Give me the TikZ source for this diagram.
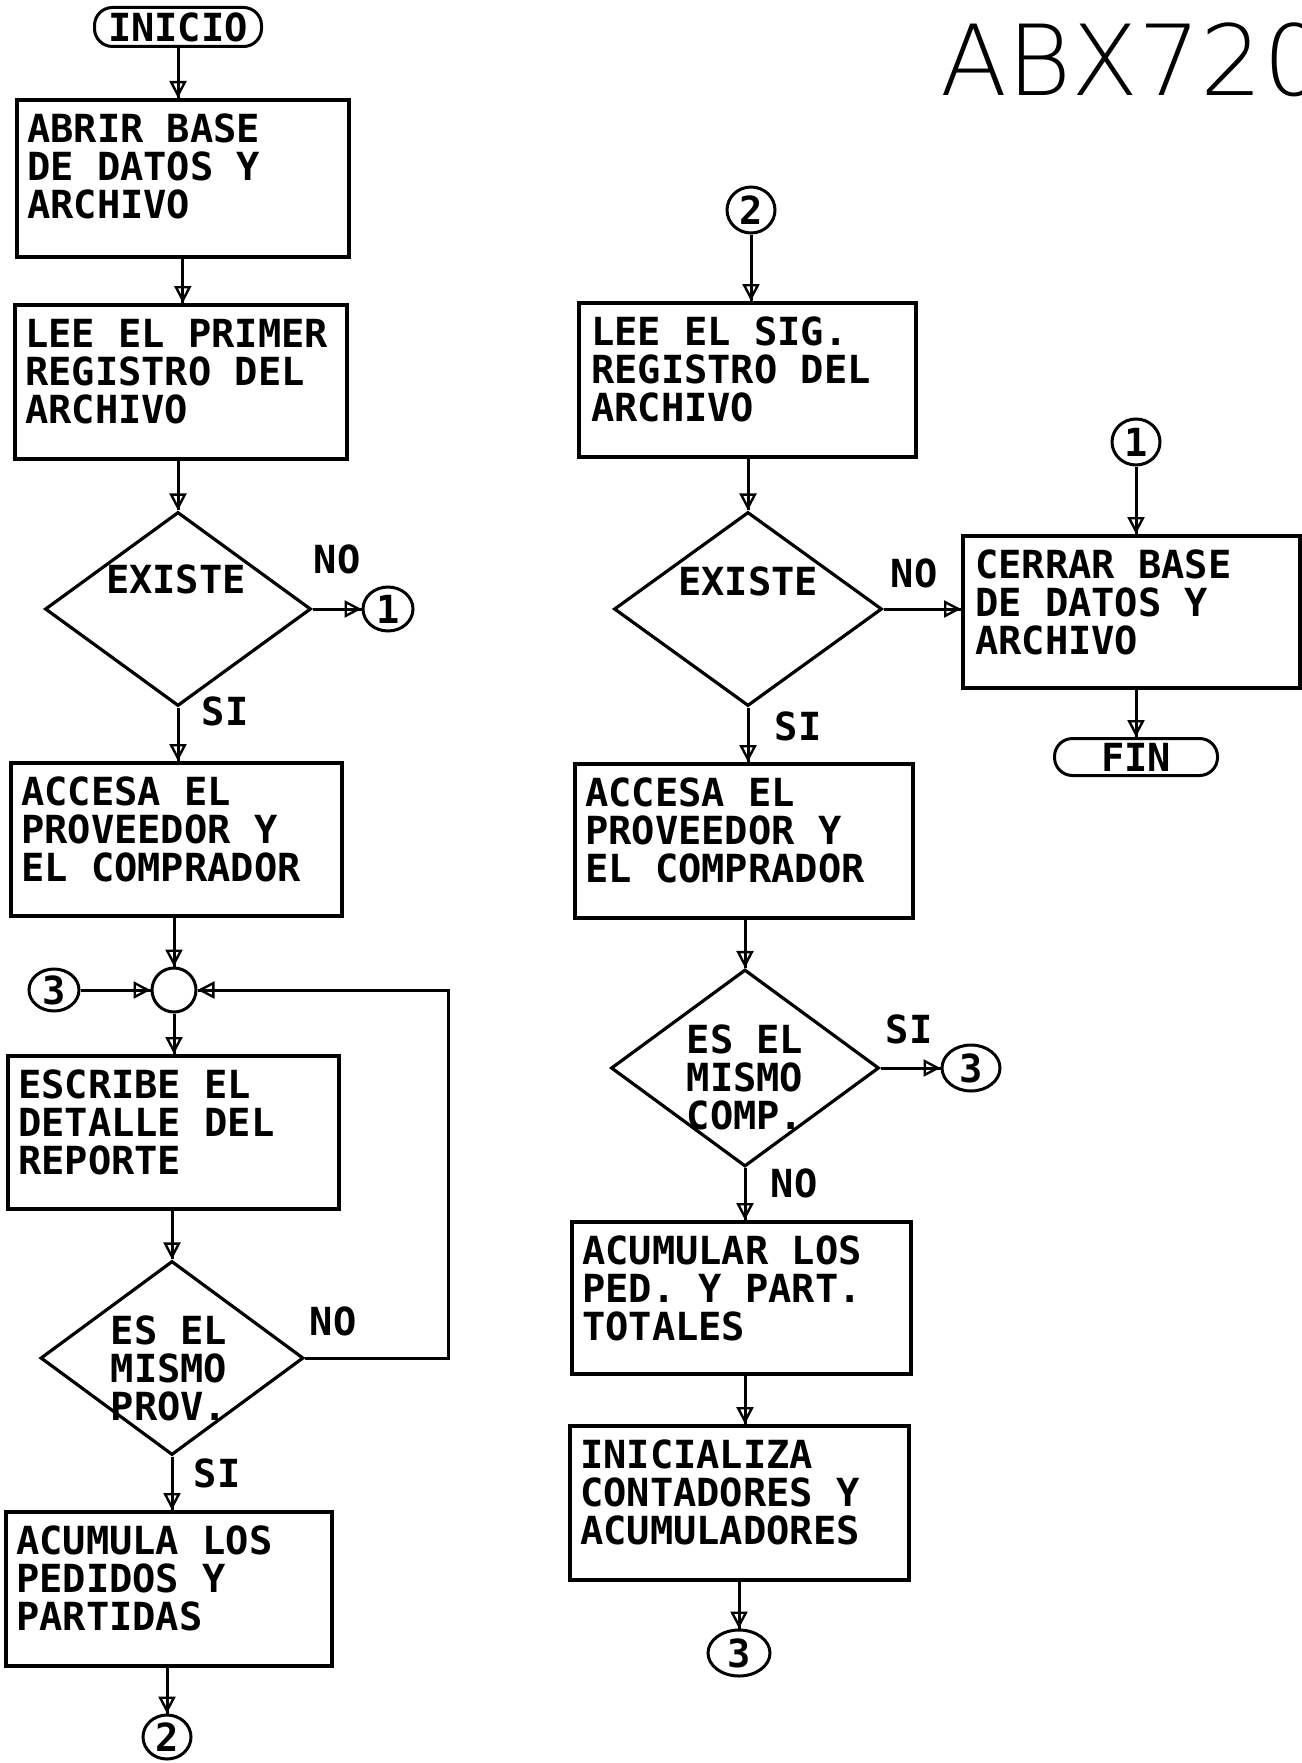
\documentclass[tikz,border=0pt]{standalone}
\usepackage{fontspec}
\usetikzlibrary{shapes.geometric,arrows.meta}
\newfontfamily\plotfont{DejaVu Sans Mono}
\newfontfamily\titlefont{DejaVu Sans ExtraLight}
\newcommand{\flowline}[1]{\draw[ln] #1; \draw[arr] #1;}
\tikzset{
  ln/.style={line width=3pt},
  arr/.style={line width=3pt, -{Triangle[open,length=17pt,width=17pt,line width=2.4pt]}},
  pfont/.style={font=\plotfont\bfseries\fontsize{38.7}{38}\selectfont},
  boxnode/.style={draw, rectangle, line width=3.6pt, inner sep=0pt, anchor=north west},
  txt/.style={pfont, inner sep=0pt, align=left, anchor=north west},
  lbl/.style={pfont, inner sep=0pt, align=center},
  dia/.style={draw, diamond, line width=3.2pt, inner sep=0pt},
  conn/.style={draw, ellipse, line width=3pt, inner sep=0pt, pfont},
  term/.style={draw, rectangle, rounded corners=18pt, line width=3pt, inner sep=0pt, pfont},
}
\begin{document}
\begin{tikzpicture}[x=1pt,y=-1pt]
\useasboundingbox (0,0) rectangle (1301,1763);
\fill[white] (0,0) rectangle (1301,1763);

% title
\begin{scope}
\clip (0,0) rectangle (1301,1763);
\node[anchor=base west, inner sep=0pt, font=\titlefont\fontsize{98}{98}\selectfont] (title) at (940,96) {ABX720};
\end{scope}

% ---------- left column ----------
\node[term, minimum width=167pt, minimum height=39pt] (ini) at (178,27) {INICIO};
\node[boxnode, minimum width=332pt, minimum height=157pt] (b1) at (15,98) {};
\node[txt] (t1) at ([shift={(12,16)}]b1.north west) {ABRIR BASE\\DE DATOS Y\\ARCHIVO};
\node[boxnode, minimum width=332pt, minimum height=154pt] (b2) at (13,303) {};
\node[txt] (t2) at ([shift={(12,16)}]b2.north west) {LEE EL PRIMER\\REGISTRO DEL\\ARCHIVO};
\node[dia, minimum width=266pt, minimum height=194pt] (d1) at (178,609) {};
\node[lbl] (dt1) at (176,579) {EXISTE};
\node[lbl] (no1) at (337,559) {NO};
\node[conn, minimum width=50pt, minimum height=44pt] (c1a) at (388,609) {1};
\node[lbl] (si1) at (225,711) {SI};
\node[boxnode, minimum width=331pt, minimum height=153pt] (b3) at (9,761) {};
\node[txt] (t3) at ([shift={(12,16)}]b3.north west) {ACCESA EL\\PROVEEDOR Y\\EL COMPRADOR};
\node[draw, circle, line width=3pt, minimum size=44pt, inner sep=0pt] (j) at (174,990) {};
\node[conn, minimum width=50pt, minimum height=42pt] (c3a) at (54,990) {3};
\coordinate (lp) at (448,990);
\node[boxnode, minimum width=331pt, minimum height=153pt] (b4) at (6,1054) {};
\node[txt] (t4) at ([shift={(12,16)}]b4.north west) {ESCRIBE EL\\DETALLE DEL\\REPORTE};
\node[dia, minimum width=263pt, minimum height=194pt] (d2) at (172,1358) {};
\node[lbl] (dt2) at (169,1368) {ES EL\\MISMO\\PROV.};
\node[lbl] (no2) at (333,1321) {NO};
\node[lbl] (si2) at (217,1473) {SI};
\node[boxnode, minimum width=326pt, minimum height=154pt] (b5) at (4,1510) {};
\node[txt] (t5) at ([shift={(12,16)}]b5.north west) {ACUMULA LOS\\PEDIDOS Y\\PARTIDAS};
\node[conn, minimum width=48pt, minimum height=44pt] (c2b) at (167,1737) {2};

% ---------- middle column ----------
\node[conn, minimum width=48pt, minimum height=46pt] (c2t) at (751,210) {2};
\node[boxnode, minimum width=337pt, minimum height=154pt] (b6) at (577,301) {};
\node[txt] (t6) at ([shift={(14,16)}]b6.north west) {LEE EL SIG.\\REGISTRO DEL\\ARCHIVO};
\node[dia, minimum width=268pt, minimum height=194pt] (d3) at (748,609) {};
\node[lbl] (dt3) at (748,581) {EXISTE};
\node[lbl] (no3) at (914,573) {NO};
\node[lbl] (si3) at (798,726) {SI};
\node[boxnode, minimum width=338pt, minimum height=154pt] (b7) at (573,762) {};
\node[txt] (t7) at ([shift={(12,16)}]b7.north west) {ACCESA EL\\PROVEEDOR Y\\EL COMPRADOR};
\node[dia, minimum width=268pt, minimum height=197pt] (d4) at (745,1068) {};
\node[lbl] (dt4) at (745,1077) {ES EL\\MISMO\\COMP.};
\node[lbl] (si4) at (909,1029) {SI};
\node[conn, minimum width=58pt, minimum height=46pt] (c3r) at (971,1068) {3};
\node[lbl] (no4) at (794,1183) {NO};
\node[boxnode, minimum width=339pt, minimum height=152pt] (b8) at (570,1220) {};
\node[txt] (t8) at ([shift={(12,16)}]b8.north west) {ACUMULAR LOS\\PED. Y PART.\\TOTALES};
\node[boxnode, minimum width=339pt, minimum height=154pt] (b10) at (568,1424) {};
\node[txt] (t10) at ([shift={(12,16)}]b10.north west) {INICIALIZA\\CONTADORES Y\\ACUMULADORES};
\node[conn, minimum width=62pt, minimum height=46pt] (c3b) at (739,1653) {3};

% ---------- right column ----------
\node[conn, minimum width=48pt, minimum height=46pt] (c1t) at (1136,442) {1};
\node[boxnode, minimum width=337pt, minimum height=152pt] (b9) at (961,534) {};
\node[txt] (t9) at ([shift={(14,16)}]b9.north west) {CERRAR BASE\\DE DATOS Y\\ARCHIVO};
\node[term, minimum width=163pt, minimum height=37pt] (fin) at (1136,757) {FIN};

% ---------- connectors ----------
\flowline{(ini.south) -- (ini.south |- b1.north)}
\flowline{(b1.south) -- (b1.south |- b2.north)}
\flowline{(d1.north |- b2.south) -- (d1.north)}
\flowline{(d1.east) -- (c1a.west)}
\flowline{(d1.south) -- (d1.south |- b3.north)}
\flowline{(j.north |- b3.south) -- (j.north)}
\flowline{(c3a.east) -- (j.west)}
\flowline{(d2.east) -| (lp) -- (j.east)}
\flowline{(j.south) -- (j.south |- b4.north)}
\flowline{(d2.north |- b4.south) -- (d2.north)}
\flowline{(d2.south) -- (d2.south |- b5.north)}
\flowline{(c2b.north |- b5.south) -- (c2b.north)}

\flowline{(c2t.south) -- (c2t.south |- b6.north)}
\flowline{(d3.north |- b6.south) -- (d3.north)}
\flowline{(d3.east) -- (d3.east -| b9.west)}
\flowline{(d3.south) -- (d3.south |- b7.north)}
\flowline{(d4.north |- b7.south) -- (d4.north)}
\flowline{(d4.east) -- (c3r.west)}
\flowline{(d4.south) -- (d4.south |- b8.north)}
\flowline{(d4.south |- b8.south) -- (d4.south |- b10.north)}
\flowline{(c3b.north |- b10.south) -- (c3b.north)}

\flowline{(c1t.south) -- (c1t.south |- b9.north)}
\flowline{(fin.north |- b9.south) -- (fin.north)}
\end{tikzpicture}
\end{document}
